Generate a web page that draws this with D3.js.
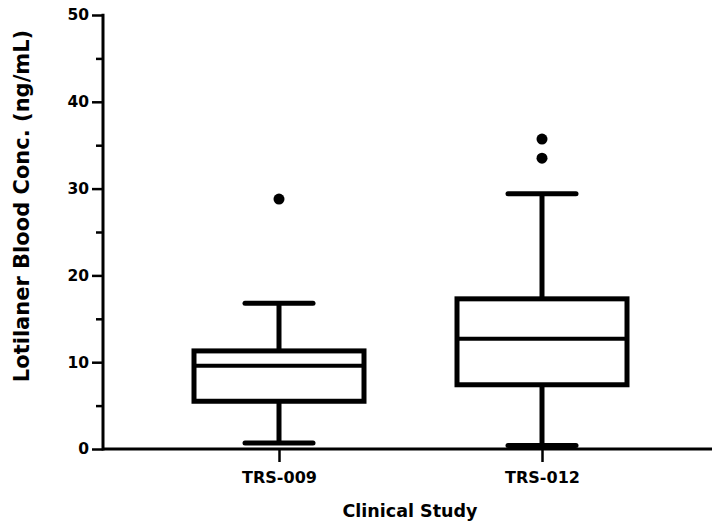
<!DOCTYPE html>
<html>
<head>
<meta charset="utf-8">
<script src="https://cdn.jsdelivr.net/npm/d3@7"></script>
<style>
  html, body { margin: 0; padding: 0; background: #fff; }
  svg { display: block; }
  text { font-family: "DejaVu Sans", "Liberation Sans", Arial, sans-serif; font-weight: bold; fill: #000; }
</style>
</head>
<body>
<svg id="chart" width="712" height="527"></svg>
<script>
const categories = ["TRS-009", "TRS-012"];
const whiskerLow = [0.7, 0.4];
const q1 = [5.5, 7.4];
const median = [9.6, 12.7];
const q3 = [11.3, 17.3];
const whiskerHigh = [16.8, 29.4];
const outliers = [[28.8], [33.5, 35.7]];
const yTicks = [0, 10, 20, 30, 40, 50];
const yMinorTicks = [5, 15, 25, 35, 45];

const svg = d3.select("#chart");
const axisX = 103, axisY = 449;

const y = d3.scaleLinear().domain([0, 50]).range([449, 15]);
const x = d3.scalePoint().domain(categories).range([279, 542]);

const boxW = 170, capW = 68;
const data = categories.map((c, i) => ({
  c, lo: whiskerLow[i], q1: q1[i], med: median[i], q3: q3[i], hi: whiskerHigh[i], out: outliers[i]
}));

const g = svg.append("g");
data.forEach(d => {
  const cx = x(d.c);
  g.append("line").attr("x1", cx).attr("x2", cx).attr("y1", y(d.q3)).attr("y2", y(d.hi))
    .attr("stroke", "#000").attr("stroke-width", 5);
  g.append("line").attr("x1", cx).attr("x2", cx).attr("y1", y(d.q1)).attr("y2", y(d.lo))
    .attr("stroke", "#000").attr("stroke-width", 5);
  [d.lo, d.hi].forEach(v => {
    g.append("line").attr("x1", cx - capW / 2).attr("x2", cx + capW / 2)
      .attr("y1", y(v)).attr("y2", y(v))
      .attr("stroke", "#000").attr("stroke-width", 5).attr("stroke-linecap", "round");
  });
  g.append("rect").attr("x", cx - boxW / 2).attr("y", y(d.q3))
    .attr("width", boxW).attr("height", y(d.q1) - y(d.q3))
    .attr("fill", "#fff").attr("stroke", "#000").attr("stroke-width", 5);
  g.append("line").attr("x1", cx - boxW / 2).attr("x2", cx + boxW / 2)
    .attr("y1", y(d.med)).attr("y2", y(d.med))
    .attr("stroke", "#000").attr("stroke-width", 4);
  d.out.forEach(v => {
    g.append("circle").attr("cx", cx).attr("cy", y(v)).attr("r", 5.5).attr("fill", "#000");
  });
});

// Y axis
const yAxis = svg.append("g").attr("transform", `translate(${axisX},0)`)
  .call(d3.axisLeft(y).tickValues(yTicks).tickSize(11).tickPadding(3).tickFormat(d3.format("d")));
yAxis.select(".domain").remove();
yAxis.selectAll(".tick line").attr("stroke", "#000").attr("stroke-width", 2.5);
yAxis.selectAll(".tick text").style("font-size", "15.5px");
const yMinor = svg.append("g").attr("transform", `translate(${axisX},0)`)
  .call(d3.axisLeft(y).tickValues(yMinorTicks).tickSize(7).tickFormat(""));
yMinor.select(".domain").remove();
yMinor.selectAll(".tick line").attr("stroke", "#000").attr("stroke-width", 2.5);
svg.append("line").attr("x1", axisX).attr("x2", axisX).attr("y1", y(50) - 1.25).attr("y2", axisY + 1.5)
  .attr("stroke", "#000").attr("stroke-width", 3);

// X axis
const xAxis = svg.append("g").attr("transform", `translate(0,${axisY})`)
  .call(d3.axisBottom(x).tickSize(13).tickPadding(9.5));
xAxis.select(".domain").remove();
xAxis.selectAll(".tick line").attr("stroke", "#000").attr("stroke-width", 2.5);
xAxis.selectAll(".tick text").style("font-size", "16px");
svg.append("line").attr("x1", axisX).attr("x2", 712).attr("y1", axisY).attr("y2", axisY)
  .attr("stroke", "#000").attr("stroke-width", 3);

// Axis titles
svg.append("text").attr("x", 410).attr("y", 517).attr("text-anchor", "middle")
  .style("font-size", "17.5px").text("Clinical Study");
svg.append("text").attr("transform", "translate(29,206) rotate(-90)").attr("text-anchor", "middle")
  .style("font-size", "21px").text("Lotilaner Blood Conc. (ng/mL)");
</script>
</body>
</html>
